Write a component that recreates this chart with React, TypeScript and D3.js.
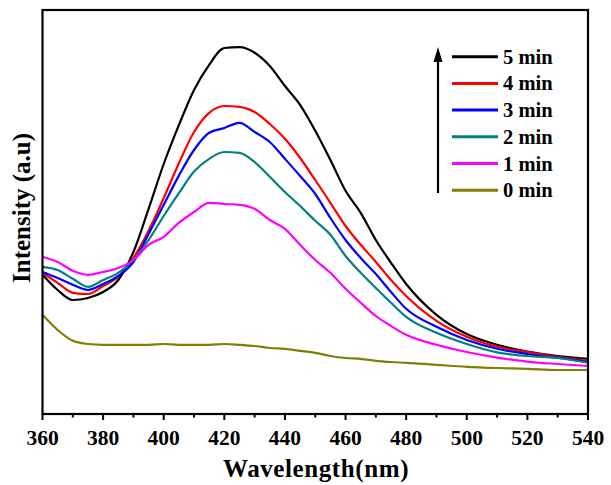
import React from "react";
import * as d3 from "d3";

const wavelengths = [360, 365, 370, 375, 380, 385, 390, 395, 400, 405, 410, 415, 420, 425, 430, 435, 440, 445, 450, 455, 460, 465, 470, 475, 480, 490, 500, 510, 520, 530, 540];

const min5 = [348, 310, 285, 290, 305, 335, 405, 513, 625, 722, 810, 873, 915, 917, 903, 870, 820, 773, 708, 635, 558, 503, 435, 378, 325, 248, 200, 173, 156, 145, 138];
const min4 = [353, 328, 303, 300, 320, 343, 390, 458, 540, 627, 705, 753, 770, 768, 755, 725, 688, 640, 585, 528, 470, 423, 380, 335, 295, 233, 193, 168, 155, 143, 133];
const min3 = [355, 340, 323, 310, 325, 345, 380, 450, 523, 596, 660, 703, 715, 728, 705, 680, 638, 595, 550, 490, 435, 390, 350, 305, 263, 218, 185, 163, 150, 141, 130];
const min2 = [368, 360, 338, 318, 335, 353, 385, 435, 495, 552, 606, 638, 655, 653, 630, 593, 555, 520, 483, 448, 395, 353, 315, 278, 243, 203, 175, 154, 145, 140, 128];
const min1 = [393, 380, 358, 348, 355, 365, 385, 423, 443, 478, 505, 528, 525, 523, 513, 485, 463, 423, 385, 353, 313, 278, 245, 220, 198, 173, 155, 141, 131, 125, 120];
const min0 = [248, 210, 183, 175, 173, 173, 173, 173, 175, 173, 173, 173, 175, 173, 170, 165, 163, 158, 153, 145, 140, 138, 133, 130, 128, 123, 118, 115, 113, 110, 110];

const seriesNames = ["5 min", "4 min", "3 min", "2 min", "1 min", "0 min"];
const seriesValues = [min5, min4, min3, min2, min1, min0];
const seriesColors = ["#000000", "#ff0000", "#0000ff", "#008080", "#ff00ff", "#808000"];

const xTicks = [360, 380, 400, 420, 440, 460, 480, 500, 520, 540];
const xMinorTicks = [370, 390, 410, 430, 450, 470, 490, 510, 530];

const W = 611;
const H = 485;
const left = 42.5;
const right = 588;
const top = 10;
const bottom = 414;
const FONT = "'Liberation Serif', 'Times New Roman', serif";

export default function App() {
  const x = d3.scaleLinear().domain([360, 540]).range([left, right]);
  const y = d3.scaleLinear().domain([0, 1010]).range([bottom, top]);
  const line = d3
    .line<number>()
    .x((_, i) => x(wavelengths[i]))
    .y((d) => y(d))
    .curve(d3.curveMonotoneX);

  const legX1 = 452;
  const legX2 = 498;
  const legY0 = 56.7;
  const legStep = 26.7;

  return (
    <svg
      width={W}
      height={H}
      style={{ position: "absolute", left: 0, top: 0, background: "#fff" }}
      fontFamily={FONT}
      fontWeight="bold"
    >
      <rect x={0} y={0} width={W} height={H} fill="#fff" />
      <g>
        {seriesValues.map((vals, i) => (
          <path
            key={seriesNames[i]}
            d={line(vals) || ""}
            fill="none"
            stroke={seriesColors[i]}
            strokeWidth={2.2}
            strokeLinejoin="round"
          />
        ))}
      </g>
      <rect
        x={left}
        y={top}
        width={right - left}
        height={bottom - top}
        fill="none"
        stroke="#000"
        strokeWidth={2.2}
      />
      {xTicks.map((t) => (
        <g key={"t" + t}>
          <line x1={x(t)} x2={x(t)} y1={bottom} y2={bottom + 6} stroke="#000" strokeWidth={2} />
          <text x={x(t)} y={445} textAnchor="middle" fontSize={21.5}>
            {t}
          </text>
        </g>
      ))}
      {xMinorTicks.map((t) => (
        <line key={"m" + t} x1={x(t)} x2={x(t)} y1={bottom} y2={bottom + 3.5} stroke="#000" strokeWidth={2} />
      ))}
      <text x={316} y={477} textAnchor="middle" fontSize={25} letterSpacing={0.6}>
        Wavelength(nm)
      </text>
      <text transform="translate(30,208) rotate(-90)" textAnchor="middle" fontSize={25}>
        Intensity (a.u)
      </text>
      {/* legend arrow */}
      <line x1={438} x2={438} y1={193} y2={58} stroke="#000" strokeWidth={2.2} />
      <path d="M438,47 L433.5,62 L442.5,62 Z" fill="#000" />
      {seriesNames.map((n, i) => (
        <g key={"l" + n}>
          <line
            x1={legX1}
            x2={legX2}
            y1={legY0 + i * legStep}
            y2={legY0 + i * legStep}
            stroke={seriesColors[i]}
            strokeWidth={3}
          />
          <text x={503} y={legY0 + i * legStep + 7} fontSize={20.5}>
            {n}
          </text>
        </g>
      ))}
    </svg>
  );
}
